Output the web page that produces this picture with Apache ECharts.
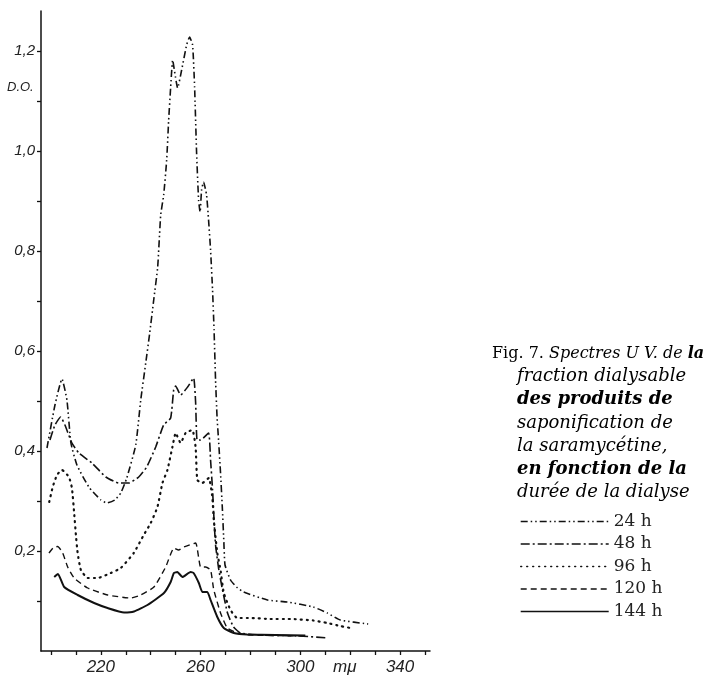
<!DOCTYPE html>
<html>
<head>
<meta charset="utf-8">
<script src="https://cdn.jsdelivr.net/npm/echarts@6/dist/echarts.min.js"></script>
<style>
html,body{margin:0;padding:0;background:#fff;}
#chart{width:707px;height:682px;}
</style>
</head>
<body>
<div id="chart"></div>
<script>
// ---- data (wavelength in mμ, optical density) ----
const seriesNames = ['24 h', '48 h', '96 h', '120 h', '144 h'];

const nm24 = [198.4,201.6,204.4,206.4,208.0,210.4,215.2,220.0,222.4,225.6,228.0,230.4,234.0,236.0,238.0,239.6,241.2,242.8,244.0,245.2,246.4,247.2,248.0,248.8,249.6,250.8,252.4,254.4,255.6,256.8,257.6,258.4,259.2,259.8,260.4,261.2,262.4,263.2,264.0,264.8,265.4,266.0,266.6,267.2,268.0,268.7,269.3,269.8,272.0,274.4,277.2,286.8,294.8,305.2,310.8,316.0,327.2];
const od24 = [0.406,0.492,0.544,0.502,0.416,0.372,0.328,0.302,0.296,0.302,0.316,0.346,0.412,0.502,0.576,0.636,0.702,0.768,0.872,0.912,0.982,1.062,1.128,1.182,1.158,1.126,1.162,1.212,1.228,1.212,1.128,0.996,0.902,0.878,0.922,0.938,0.912,0.862,0.802,0.722,0.642,0.542,0.468,0.422,0.356,0.288,0.222,0.172,0.142,0.128,0.118,0.102,0.098,0.088,0.076,0.062,0.054];

const nm48 = [199.6,201.6,203.9,205.6,208.4,211.2,216.4,222.0,227.2,231.2,235.2,238.4,242.0,245.2,248.0,249.2,250.0,252.0,254.8,257.2,258.0,258.6,260.0,263.2,264.0,264.8,265.4,266.0,267.2,268.8,270.8,273.2,276.0,284.0,300.0,311.2];
const od48 = [0.422,0.452,0.468,0.452,0.416,0.396,0.376,0.348,0.336,0.336,0.348,0.368,0.408,0.452,0.466,0.522,0.530,0.512,0.528,0.546,0.498,0.422,0.422,0.436,0.382,0.322,0.262,0.212,0.166,0.122,0.076,0.048,0.036,0.032,0.030,0.026];

const nm96 = [199.3,200.7,202.4,204.4,207.2,208.4,209.3,210.0,210.7,212.0,214.7,218.7,224.0,228.0,233.2,237.2,240.0,242.7,244.7,246.7,248.7,250.0,252.0,254.0,256.7,258.0,258.7,260.7,263.3,264.7,265.3,266.7,268.0,269.3,272.0,274.7,280.0,288.0,296.0,305.2,310.8,316.0,321.2];
const od96 = [0.298,0.328,0.352,0.362,0.348,0.326,0.276,0.232,0.196,0.162,0.146,0.146,0.156,0.166,0.196,0.232,0.256,0.288,0.336,0.362,0.408,0.436,0.416,0.436,0.442,0.408,0.342,0.336,0.346,0.308,0.262,0.196,0.162,0.116,0.082,0.066,0.066,0.064,0.064,0.061,0.056,0.050,0.045];

const nm120 = [199.2,200.8,202.7,204.7,206.7,209.3,214.7,222.7,232.0,236.0,241.3,246.0,249.3,251.2,253.3,258.0,260.0,262.0,264.0,265.3,268.0,270.7,274.7,280.0,302.8];
const od120 = [0.196,0.206,0.209,0.196,0.168,0.146,0.126,0.112,0.106,0.112,0.128,0.168,0.206,0.202,0.208,0.216,0.168,0.168,0.162,0.122,0.076,0.046,0.036,0.032,0.030];

const nm144 = [201.3,202.8,205.3,210.7,217.3,222.7,229.3,233.3,238.7,245.3,248.0,249.3,250.7,252.7,256.0,257.2,259.3,260.7,262.7,264.0,266.7,269.3,273.3,278.7,302.0];
const od144 = [0.148,0.154,0.128,0.112,0.096,0.086,0.077,0.079,0.092,0.116,0.138,0.156,0.158,0.148,0.158,0.156,0.136,0.118,0.118,0.102,0.068,0.046,0.036,0.033,0.031];

const xTickValues = [200,210,220,230,240,250,260,270,280,290,300,310,320,330,340,350];
const xLabelValues = [220,260,300,340];
const yTickValues = [0.1,0.2,0.3,0.4,0.5,0.6,0.7,0.8,0.9,1.0,1.1,1.2];
const yLabelValues = [0.2,0.4,0.6,0.8,1.0,1.2];

const captionLines = [
  [{t:'Fig. 7. ', s:'up'}, {t:'Spectres U V. de ', s:'it1'}, {t:'la', s:'bi1'}],
  [{t:'fraction dialysable', s:'it'}],
  [{t:'des produits de', s:'bi'}],
  [{t:'saponification de', s:'it'}],
  [{t:'la saramycétine,', s:'it'}],
  [{t:'en fonction de la', s:'bi'}],
  [{t:'durée de la dialyse', s:'it'}]
];

// ---- styles ----
const zip = (a, b) => a.map((v, i) => [v, b[i]]);
const lineStyles = [
  {type:[7,3,1.5,3,1.5,3], width:1.6},
  {type:[9,3,2,3], width:1.6},
  {type:[1,5], width:2.2, cap:'round'},
  {type:[6,4], width:1.4},
  {type:'solid', width:2}
];
const datasets = [zip(nm24,od24), zip(nm48,od48), zip(nm96,od96), zip(nm120,od120), zip(nm144,od144)];

const series = seriesNames.map((n, i) => ({
  name: n,
  type: 'line',
  data: datasets[i],
  symbol: 'none',
  smooth: 0.15,
  lineStyle: Object.assign({color:'#111'}, lineStyles[i]),
  itemStyle: {color:'#111'},
  animation: false
}));

const serif = '"DejaVu Serif", "Liberation Serif", serif';
const rich = {
  up: {fontFamily: serif, fontSize: 16, fontStyle: 'normal', color: '#222'},
  it1: {fontFamily: serif, fontSize: 16, fontStyle: 'italic', color: '#222'},
  bi1: {fontFamily: serif, fontSize: 16, fontStyle: 'italic', fontWeight: 'bold', color: '#222'},
  it: {fontFamily: serif, fontSize: 18, fontStyle: 'italic', color: '#222'},
  bi: {fontFamily: serif, fontSize: 18, fontStyle: 'italic', fontWeight: 'bold', color: '#222'}
};
const captionGraphics = captionLines.map((line, i) => ({
  type: 'text',
  left: i === 0 ? 492 : 517,
  top: (i === 0 ? 346 : 344) + i * 23.3,
  silent: true,
  style: {
    text: line.map(p => '{' + p.s + '|' + p.t + '}').join(''),
    rich: rich
  }
}));

const option = {
  backgroundColor: '#fff',
  animation: false,
  grid: {left: 41, right: 277, top: 11, bottom: 31, containLabel: false},
  xAxis: {
    type: 'value', min: 196, max: 352,
    axisLine: {show: true, lineStyle: {color: '#111', width: 1.5}},
    axisTick: {show: true, inside: false, length: 4, customValues: xTickValues, lineStyle: {color:'#111', width: 1.3}},
    axisLabel: {customValues: xLabelValues, margin: 8, fontFamily: '"Liberation Sans", sans-serif', fontStyle: 'italic', fontSize: 17, color: '#222'},
    splitLine: {show: false}
  },
  yAxis: {
    type: 'value', min: 0, max: 1.28,
    axisLine: {show: true, lineStyle: {color: '#111', width: 1.5}},
    axisTick: {show: true, length: 4, customValues: yTickValues, lineStyle: {color:'#111', width: 1.3}},
    axisLabel: {customValues: yLabelValues, margin: 6, fontFamily: '"Liberation Sans", sans-serif', fontStyle: 'italic', fontSize: 15, color: '#222',
      formatter: v => v.toFixed(1).replace('.', ',')},
    splitLine: {show: false}
  },
  legend: {
    orient: 'vertical',
    left: 515, top: 508,
    itemWidth: 88, itemHeight: 14, itemGap: 5.5,
    data: seriesNames,
    itemStyle: {opacity: 0},
    lineStyle: {width: 1.4},
    textStyle: {fontFamily: serif, fontSize: 17, color: '#222'},
    selectedMode: false
  },
  graphic: [
    {type:'text', left: 7, top: 81, silent: true,
      style:{text:'D.O.', fontFamily:'"Liberation Sans", sans-serif', fontStyle:'italic', fontSize:13, fill:'#222'}},
    {type:'text', left: 333, top: 659, silent: true,
      style:{text:'mμ', fontFamily:'"Liberation Sans", sans-serif', fontStyle:'italic', fontSize:17, fill:'#222'}}
  ].concat(captionGraphics),
  series: series
};

const chart = echarts.init(document.getElementById('chart'), null, {renderer: 'canvas'});
chart.setOption(option);
</script>
</body>
</html>
